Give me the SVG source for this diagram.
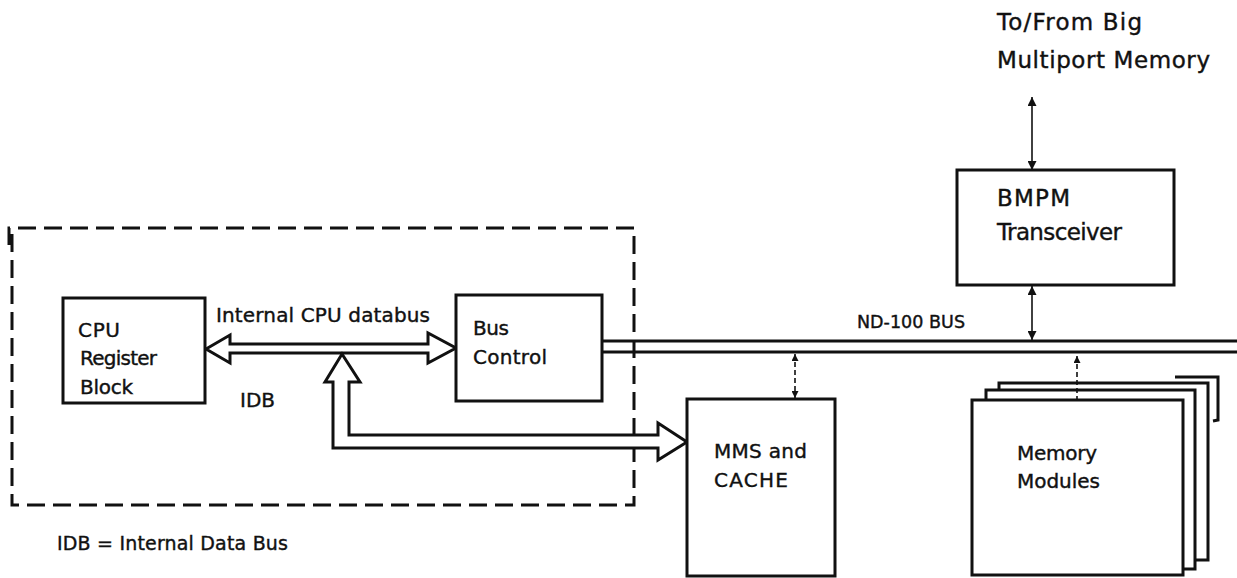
<svg xmlns="http://www.w3.org/2000/svg" width="1237" height="578" viewBox="0 0 1237 578">
<style>
  .box { fill: #fff; stroke: #111; stroke-width: 3; }
  .ln { fill: none; stroke: #111; stroke-width: 3; }
  .dash { fill: none; stroke: #111; stroke-width: 3; stroke-dasharray: 18 8; }
  .hollow { fill: #fff; stroke: #111; stroke-width: 3; stroke-linejoin: miter; }
  .thin { fill: none; stroke: #111; stroke-width: 1.6; }
  .thindash { fill: none; stroke: #111; stroke-width: 1.6; stroke-dasharray: 5 3; }
  text { font-family: "DejaVu Sans", "Liberation Sans", sans-serif; font-size: 20px; fill: #111; stroke: #111; stroke-width: 0.4; }
  .big { font-size: 23px; }
</style>
<defs>
  <marker id="ah" viewBox="0 0 10 10" refX="10" refY="5" markerWidth="13" markerHeight="9" markerUnits="userSpaceOnUse" orient="auto-start-reverse">
    <path d="M0,0 L10,5 L0,10 z" fill="#111"/>
  </marker>
  <marker id="ahs" viewBox="0 0 10 10" refX="10" refY="5" markerWidth="9" markerHeight="7" markerUnits="userSpaceOnUse" orient="auto-start-reverse">
    <path d="M0,0 L10,5 L0,10 z" fill="#111"/>
  </marker>
</defs>

<g id="cpu-boundary">
  <path class="dash" d="M9,245 L9,228 L634,228 L634,505 L12,505 L12,228"/>
</g>

<g id="connectors">
  <!-- Internal CPU databus (hollow double arrow) -->
  <path class="hollow" d="M206,349 L230,335 L230,344 L428,344 L428,333 L456,348 L428,363 L428,353 L230,353 L230,363 Z"/>
  <!-- IDB branch to MMS and CACHE -->
  <path class="hollow" d="M342,354 L360,382 L349,382 L349,435 L658,435 L658,423 L687,442 L658,460 L658,448 L333,448 L333,382 L325,382 Z"/>
  <!-- ND-100 BUS -->
  <line class="ln" x1="602" y1="341" x2="1237" y2="341"/>
  <line class="ln" x1="602" y1="352" x2="1237" y2="352"/>
  <!-- MMS to bus -->
  <line class="thindash" x1="795" y1="354" x2="795" y2="398" marker-start="url(#ahs)" marker-end="url(#ahs)"/>
  <!-- Memory modules to bus -->
  <line class="thindash" x1="1077" y1="356" x2="1077" y2="400" marker-start="url(#ahs)"/>
  <!-- BMPM to big memory -->
  <line class="thin" x1="1032" y1="97" x2="1032" y2="170" marker-start="url(#ah)" marker-end="url(#ah)"/>
  <!-- BMPM to bus -->
  <line class="thin" x1="1032" y1="286" x2="1032" y2="340" marker-start="url(#ah)" marker-end="url(#ah)"/>
</g>

<g id="cpu-register-block">
  <rect class="box" x="63" y="298" width="142" height="105"/>
  <text x="78" y="337" textLength="42">CPU</text>
  <text x="80" y="365" textLength="77">Register</text>
  <text x="80" y="394" textLength="53">Block</text>
</g>

<g id="bus-control">
  <rect class="box" x="456" y="295" width="146" height="106"/>
  <text x="473" y="335" textLength="36">Bus</text>
  <text x="473" y="364" textLength="74">Control</text>
</g>

<g id="labels">
  <text x="216" y="322" textLength="214">Internal CPU databus</text>
  <text x="240" y="407" textLength="35">IDB</text>
  <text x="857" y="328" textLength="108" style="font-size:17.5px">ND-100 BUS</text>
  <text x="57" y="550" textLength="231" style="font-size:19px">IDB = Internal Data Bus</text>
  <text class="big" x="997" y="30" textLength="145">To/From Big</text>
  <text class="big" x="997" y="68" textLength="213">Multiport Memory</text>
</g>

<g id="bmpm-transceiver">
  <rect class="box" x="957" y="170" width="217" height="115"/>
  <text class="big" x="997" y="206" textLength="73">BMPM</text>
  <text class="big" x="997" y="240" textLength="125">Transceiver</text>
</g>

<g id="mms-cache">
  <rect class="box" x="687" y="399" width="148" height="177"/>
  <text x="714" y="458" textLength="93">MMS and</text>
  <text x="714" y="487" textLength="74">CACHE</text>
</g>

<g id="memory-modules">
  <polyline class="ln" points="1175,377 1218,377 1218,420 1213,421"/>
  <polyline class="ln" points="999,390 999,383 1208,383 1208,560 1195,560"/>
  <polyline class="ln" points="986,400 986,390 1195,390 1195,569 1183,569"/>
  <rect class="box" x="972" y="400" width="211" height="175"/>
  <text x="1017" y="460" textLength="80">Memory</text>
  <text x="1017" y="488" textLength="83">Modules</text>
</g>
</svg>
